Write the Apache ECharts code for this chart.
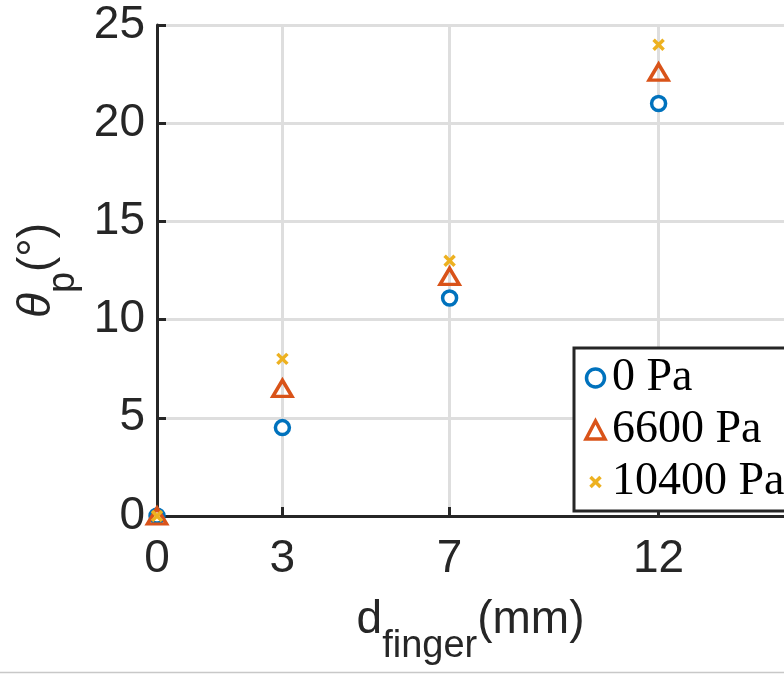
<!DOCTYPE html>
<html>
<head>
<meta charset="utf-8">
<script src="https://cdn.jsdelivr.net/npm/echarts@6/dist/echarts.min.js"></script>
<style>
  html, body { margin: 0; padding: 0; background: #fff; }
  #chart { width: 784px; height: 675px; }
</style>
</head>
<body>
<div id="chart"></div>
<script>
// finger displacement (mm) and measured angle (deg) per pressure
const distances = [0, 3, 7, 12]
const theta0Pa = [0, 4.5, 11.1, 21.0]
const theta6600Pa = [0, 6.5, 12.2, 22.6]
const theta10400Pa = [0, 8.0, 13.0, 24.0]
const seriesNames = ['0 Pa', '6600 Pa', '10400 Pa']
const xTicks = [0, 3, 7, 12]
const yTicks = [0, 5, 10, 15, 20, 25]

const axisColor = '#262626'
const gridColor = '#dedede'
const sansFont = '"Liberation Sans", Arial, sans-serif'
const serifFont = '"Liberation Serif", "DejaVu Serif", serif'

// cross marker; the two bare moveTo points pad its box so it stays small in the legend too
const crossPath = 'path://M-4,-4M14,14M0,0L10,10M10,0L0,10'

const toPoints = (ys) => distances.map((x, i) => [x, ys[i]])

// main text sits at the top of the line box, the subscript is pushed down by a tall line height
const titleRich = {
  m: { fontFamily: sansFont, fontSize: 46, color: axisColor, verticalAlign: 'top', lineHeight: 46 },
  t: { fontFamily: sansFont, fontStyle: 'italic', fontSize: 46, color: axisColor, verticalAlign: 'top', lineHeight: 46 },
  s: { fontFamily: sansFont, fontSize: 38, color: axisColor, lineHeight: 100 },
}

const chart = echarts.init(document.getElementById('chart'), null, { renderer: 'canvas' })

const option = {
  backgroundColor: '#fff',
  animation: false,
  grid: { left: 157, right: -9, top: 25, bottom: 159, containLabel: false },
  legend: {
    orient: 'vertical',
    left: 574,
    top: 348,
    padding: [7, 30, 6, 10],
    itemGap: 6,
    itemWidth: 19,
    itemHeight: 18,
    selectedMode: false,
    backgroundColor: '#fff',
    borderColor: axisColor,
    borderWidth: 3,
    borderRadius: 0,
    itemStyle: { borderWidth: 3.5 },
    textStyle: { fontFamily: serifFont, fontSize: 46, color: '#000', padding: [0, 0, 0, 2] },
    data: seriesNames,
  },
  xAxis: {
    type: 'value',
    min: 0,
    max: 15,
    name: '{m|d}{s|finger}{m|(mm)}',
    nameLocation: 'middle',
    nameGap: 81,
    nameTextStyle: { rich: titleRich },
    axisLine: { show: true, onZero: false, lineStyle: { color: axisColor, width: 3 } },
    axisTick: { show: true, inside: true, length: 9, customValues: xTicks, lineStyle: { color: axisColor, width: 3 } },
    axisLabel: { customValues: xTicks, fontFamily: sansFont, fontSize: 46, color: axisColor, margin: 20 },
    splitLine: { show: true, lineStyle: { color: gridColor, width: 3 } },
  },
  yAxis: {
    type: 'value',
    min: 0,
    max: 25,
    interval: 5,
    name: '{t|θ}{s|p}{m|(°)}',
    nameLocation: 'middle',
    nameRotate: 90,
    nameGap: 43,
    nameTextStyle: { rich: titleRich },
    axisLine: { show: true, onZero: false, lineStyle: { color: axisColor, width: 3 } },
    axisTick: { show: true, inside: true, length: 9, lineStyle: { color: axisColor, width: 3 } },
    axisLabel: {
      fontFamily: sansFont, fontSize: 46, color: axisColor, margin: 12,
      formatter: (v) => (yTicks.includes(v) ? String(v) : ''),
    },
    splitLine: { show: true, lineStyle: { color: gridColor, width: 3 } },
  },
  series: [
    {
      name: seriesNames[0],
      type: 'scatter',
      symbol: 'circle',
      symbolSize: 14,
      itemStyle: { color: '#fff', borderColor: '#0072BD', borderWidth: 3.5, opacity: 1 },
      data: toPoints(theta0Pa),
      z: 3,
    },
    {
      name: seriesNames[1],
      type: 'scatter',
      symbol: 'triangle',
      symbolSize: [19, 16],
      itemStyle: { color: 'rgba(255,255,255,0)', borderColor: '#D95319', borderWidth: 3.5, opacity: 1 },
      data: toPoints(theta6600Pa),
      z: 4,
    },
    {
      name: seriesNames[2],
      type: 'scatter',
      symbol: crossPath,
      symbolSize: 18,
      itemStyle: { color: 'none', borderColor: '#EDB120', borderWidth: 3.5, opacity: 1 },
      data: toPoints(theta10400Pa),
      z: 5,
    },
  ],
  graphic: [
    {
      type: 'line',
      shape: { x1: 0, y1: 672.5, x2: 784, y2: 672.5 },
      style: { stroke: '#c8c8c8', lineWidth: 1.5 },
      silent: true,
    },
  ],
}

chart.setOption(option)
</script>
</body>
</html>
